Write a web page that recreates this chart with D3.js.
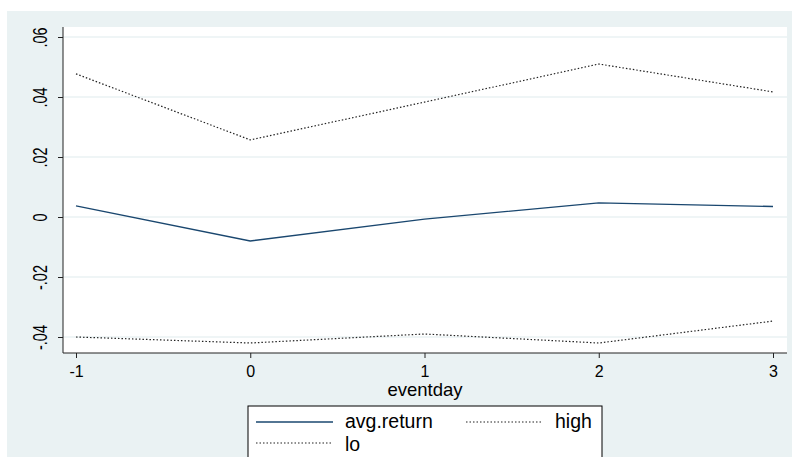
<!DOCTYPE html>
<html><head><meta charset="utf-8">
<script src="https://cdn.jsdelivr.net/npm/d3@7"></script>
<style>body{margin:0;background:#fff;}svg{display:block;font-family:"Liberation Sans",Arial,sans-serif;}</style>
</head><body>
<svg id="c" width="792" height="457"></svg>
<script>
const eventday = [-1, 0, 1, 2, 3];
const avgReturn = [0.0037, -0.0080, -0.0007, 0.0047, 0.0035];
const high = [0.0477, 0.0257, 0.0383, 0.0510, 0.0417];
const lo = [-0.0400, -0.0420, -0.0390, -0.0420, -0.0347];
const yTicks = [-0.04, -0.02, 0, 0.02, 0.04, 0.06];
const yTickLabels = ["-.04", "-.02", "0", ".02", ".04", ".06"];
const xTicks = [-1, 0, 1, 2, 3];
const legendItems = ["avg.return", "high", "lo"];

const svg = d3.select("#c");
svg.append("rect").attr("x", 7).attr("y", 11).attr("width", 785).attr("height", 446).attr("fill", "#eaf2f3");

const L = 63, R = 787, T = 27, B = 353;
svg.append("rect").attr("x", L).attr("y", T).attr("width", R - L).attr("height", B - T).attr("fill", "#fff");

const x = d3.scaleLinear().domain([-1, 3]).range([76, 773]);
const y = d3.scaleLinear().domain([0, 0.02]).range([217, 157]);

// gridlines
svg.append("g").selectAll("line").data(yTicks).join("line")
  .attr("x1", L).attr("x2", R).attr("y1", d => y(d)).attr("y2", d => y(d))
  .attr("stroke", "#eaf2f3").attr("stroke-width", 1.5);

// y axis
const yAxis = d3.axisLeft(y).tickValues(yTicks).tickSize(5).tickFormat((d, i) => yTickLabels[i]);
const gy = svg.append("g").attr("transform", `translate(${L},0)`).call(yAxis);
gy.select(".domain").remove();
gy.append("line").attr("x1", 0).attr("x2", 0).attr("y1", T).attr("y2", B).attr("stroke", "#222").attr("stroke-width", 1);
gy.selectAll(".tick line").attr("stroke", "#222");
gy.selectAll(".tick text").attr("font-size", 14.5).attr("fill", "#000")
  .attr("x", 0).attr("y", 0).attr("dy", "0.35em").attr("text-anchor", "middle")
  .attr("transform", "translate(-23,0) scale(1.45,1) rotate(-90)");

// x axis
const xAxis = d3.axisBottom(x).tickValues(xTicks).tickSize(5).tickPadding(4).tickFormat(d3.format("d"));
const gx = svg.append("g").attr("transform", `translate(0,${B})`).call(xAxis);
gx.select(".domain").remove();
gx.append("line").attr("x1", L).attr("x2", R).attr("y1", 0).attr("y2", 0).attr("stroke", "#222");
gx.selectAll(".tick line").attr("stroke", "#222");
gx.selectAll(".tick text").attr("font-size", 16).attr("fill", "#000").attr("dy", null).attr("y", 24)
  .text(d => d < 0 ? "-" + Math.abs(d) : d);

svg.append("text").attr("x", 425).attr("y", 396).attr("text-anchor", "middle").attr("font-size", 18.5).text("eventday");

// lines
const line = d3.line().x((d, i) => x(eventday[i])).y(d => y(d));
svg.append("path").datum(high).attr("d", line).attr("fill", "none").attr("stroke", "#222").attr("stroke-width", 1.2).attr("stroke-dasharray", "1.5,2");
svg.append("path").datum(lo).attr("d", line).attr("fill", "none").attr("stroke", "#222").attr("stroke-width", 1.2).attr("stroke-dasharray", "1.5,2");
svg.append("path").datum(avgReturn).attr("d", line).attr("fill", "none").attr("stroke", "#1a476f").attr("stroke-width", 1.3);

// legend
const lg = svg.append("g");
lg.append("rect").attr("x", 248).attr("y", 406).attr("width", 354).attr("height", 60).attr("fill", "#fff").attr("stroke", "#000");
const lpos = [{lx: 256, ly: 422, ty: 428}, {lx: 466, ly: 422, ty: 428}, {lx: 256, ly: 443, ty: 451}];
legendItems.forEach((name, i) => {
  const p = lpos[i];
  lg.append("line").attr("x1", p.lx).attr("x2", p.lx + 77).attr("y1", p.ly).attr("y2", p.ly)
    .attr("stroke", i === 0 ? "#1a476f" : "#222").attr("stroke-width", i === 0 ? 1.3 : 1.2)
    .attr("stroke-dasharray", i === 0 ? null : "1.5,2");
  lg.append("text").attr("x", p.lx + 89).attr("y", p.ty).attr("font-size", 19.5).text(name);
});
</script>
</body></html>
